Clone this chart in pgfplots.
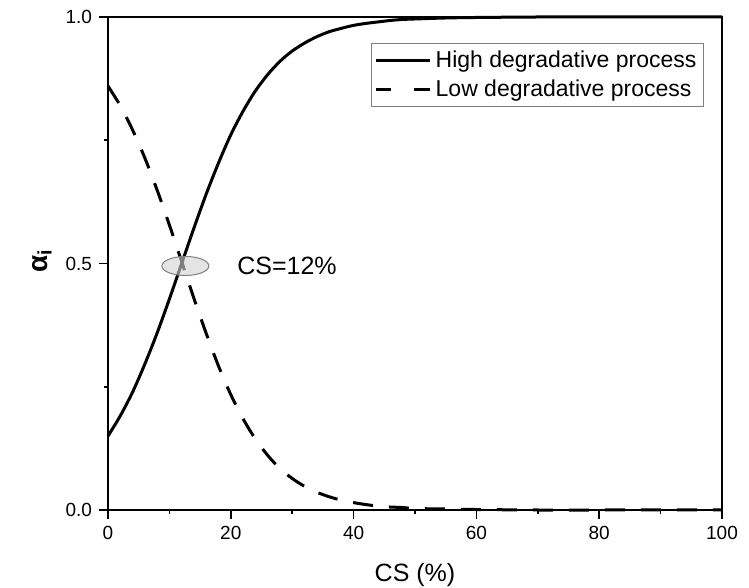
\documentclass[border=0pt]{standalone}
\usepackage{fontspec}
\setmainfont{Liberation Sans}
\usepackage{pgfplots}
\pgfplotsset{compat=1.18}
\begin{document}
\begin{tikzpicture}
\begin{axis}[
  name=ax,
  scale only axis, width=307pt, height=246.5pt,
  xmin=0, xmax=100, ymin=0, ymax=1,
  xtick={0,20,...,100}, ytick={0,0.5,1},
  minor xtick={10,30,50,70,90}, minor ytick={0.25,0.75},
  tick pos=left, tick align=outside,
  major tick length=4.5pt, minor tick length=2.2pt,
  axis line style={line width=1pt},
  every tick/.append style={black, line width=0.8pt},
  /pgf/number format/assume math mode=true,
  yticklabel style={/pgf/number format/fixed, /pgf/number format/fixed zerofill, /pgf/number format/precision=1},
  tick label style={font=\fontsize{9.5}{11}\selectfont},
  xlabel={CS (\%)},
  ylabel={\textbf{α\textsubscript{i}}},
  xlabel style={font=\fontsize{12.5}{14}\selectfont, at={(axis description cs:0.5,0)}, anchor=center, yshift=-32.5pt},
  ylabel style={font=\fontsize{14}{16}\selectfont, at={(axis description cs:-0.1075,0.505)}, anchor=center},
  clip=false,
  legend style={at={(rel axis cs:1,1)}, anchor=north east, xshift=-9pt, yshift=-13pt,
    draw=gray, line width=0.5pt, font=\fontsize{11.5}{13}\selectfont,
    inner xsep=1.5pt, inner ysep=2pt, row sep=2pt,
    nodes={inner xsep=2pt, inner ysep=1.5pt}},
  legend cell align=left,
  legend image code/.code={\draw[#1] (0pt,0pt) -- (27pt,0pt);},
]
\addplot[black, line width=1.5pt, smooth] coordinates {
(0,0.150)(2,0.191)(4,0.239)(6,0.296)(8,0.359)(10,0.428)(12,0.500)(14,0.572)(16,0.641)(18,0.704)(20,0.761)(22,0.809)(24,0.850)(26,0.883)(28,0.910)(30,0.931)(32,0.947)(34,0.960)(36,0.970)(38,0.977)(40,0.983)(42,0.987)(44,0.990)(46,0.993)(48,0.995)(50,0.996)(55,0.998)(60,0.999)(70,1.000)(80,1.000)(90,1.000)(100,1.000)
};
\addlegendentry{High degradative process}
\addplot[black, line width=1.5pt, smooth, dash pattern=on 10pt off 8pt,
  legend image code/.code={\draw[black, line width=1.5pt] (0pt,0pt) -- (7.5pt,0pt) (19pt,0pt) -- (27pt,0pt);}] coordinates {
(0,0.860)(2,0.820)(4,0.771)(6,0.714)(8,0.649)(10,0.578)(12,0.504)(14,0.429)(16,0.358)(18,0.292)(20,0.234)(22,0.185)(24,0.144)(26,0.111)(28,0.084)(30,0.064)(32,0.048)(34,0.036)(36,0.027)(38,0.020)(40,0.015)(42,0.011)(44,0.008)(46,0.006)(48,0.005)(50,0.003)(55,0.002)(60,0.001)(70,0.000)(80,0.000)(90,0.000)(100,0.000)
};
\addlegendentry{Low degradative process}
\draw[draw=gray, fill=gray!35, fill opacity=0.6, line width=0.5pt] (axis cs:12.6,0.495) ellipse [x radius=11.75pt, y radius=4.75pt];
\node[anchor=west, font=\fontsize{12.5}{14}\selectfont, inner sep=0pt] at (axis cs:21,0.495) {CS=12\%};
\end{axis}
\pgfresetboundingbox
\path[use as bounding box] (ax.south west) ++(-54pt,-39pt) rectangle ++(374.5pt,294pt);
\end{tikzpicture}
\end{document}
